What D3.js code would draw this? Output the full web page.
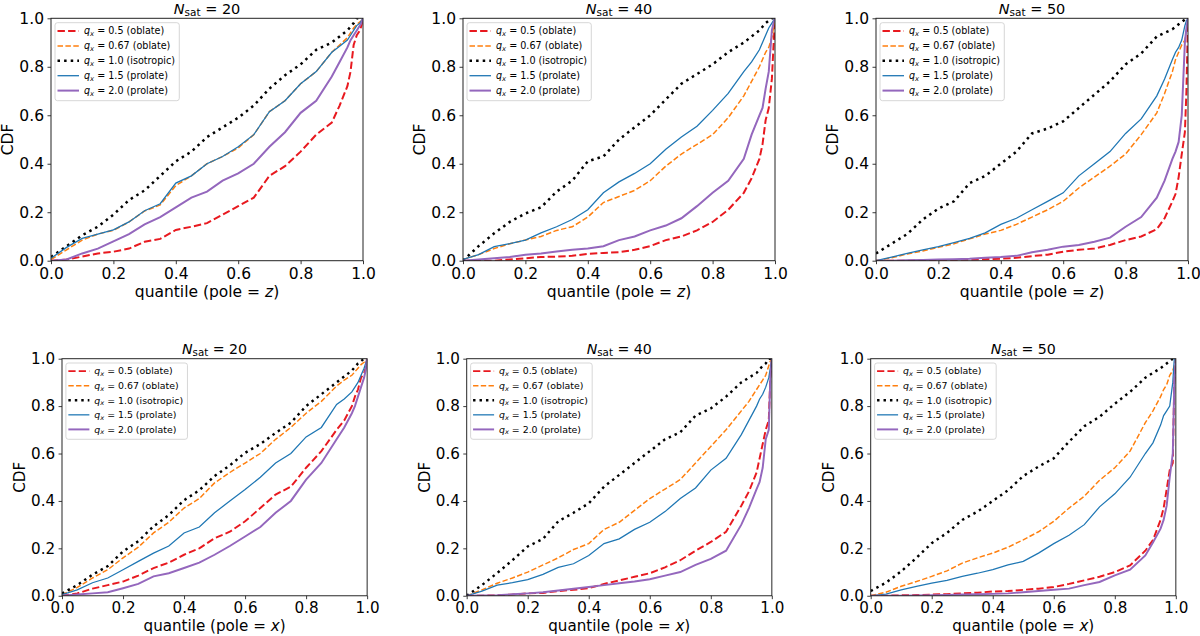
<!DOCTYPE html>
<html>
<head>
<meta charset="utf-8">
<title>CDF of quantiles</title>
<style>
body { margin: 0; background: #fff; }
svg { display: block; font-family: "DejaVu Sans", sans-serif; }
</style>
</head>
<body>
<svg id="chart" width="1200" height="636"></svg>
<script src="https://cdn.jsdelivr.net/npm/d3@7"></script>
<script>
// quantile grid shared by every curve
const qGrid = [0, .05, .1, .15, .2, .25, .3, .35, .4, .45, .5, .55, .6, .65, .7,
               .75, .8, .85, .9, .925, .95, .96, .97, .98, .99, .995, 1];

const qValues = ["0.5", "0.67", "1.0", "1.5", "2.0"];
const qShapes = ["oblate", "oblate", "isotropic", "prolate", "prolate"];
const nSatValues = [20, 40, 50];
const poles = ["z", "z", "z", "x", "x", "x"];
const tickValues = [0, 0.2, 0.4, 0.6, 0.8, 1.0];

// each panel: [q=0.5, q=0.67, q=1.0, q=1.5, q=2.0]
const z20 = [
  [0, .005, .017, .03, .037, .05, .078, .09, .127, .14, .155, .19, .225, .26, .35, .39, .45, .52, .57, .64, .72, .78, .89, .93, .95, .97, 1],
  [.005, .045, .085, .11, .125, .16, .205, .23, .31, .35, .40, .43, .465, .52, .615, .66, .73, .78, .86, .89, .92, .94, .96, .975, .985, .99, 1],
  [.015, .06, .105, .14, .19, .25, .29, .35, .41, .45, .51, .55, .59, .64, .71, .765, .81, .87, .90, .925, .95, .965, .98, 1, 1, 1, 1],
  [.01, .055, .092, .11, .127, .16, .206, .235, .32, .35, .40, .43, .47, .52, .615, .66, .73, .78, .86, .885, .91, .93, .95, .97, .98, .99, 1],
  [0, .005, .03, .05, .08, .11, .15, .18, .22, .26, .285, .33, .36, .40, .47, .53, .61, .66, .76, .82, .88, .91, .93, .95, .97, .98, 1]
];
const z40 = [
  [0, 0, 0, .005, .01, .015, .017, .02, .028, .032, .035, .045, .06, .085, .10, .125, .16, .21, .28, .34, .42, .48, .58, .63, .75, .88, 1],
  [.005, .025, .05, .07, .085, .10, .125, .14, .18, .24, .265, .29, .33, .39, .44, .48, .52, .59, .68, .74, .80, .83, .86, .88, .92, .96, 1],
  [0, .06, .113, .16, .195, .22, .285, .33, .41, .43, .50, .55, .60, .665, .73, .77, .81, .86, .90, .925, .95, .965, .98, .99, 1, 1, 1],
  [.005, .025, .058, .07, .085, .115, .14, .17, .21, .28, .325, .36, .40, .46, .51, .555, .62, .69, .78, .82, .87, .90, .93, .96, .98, .99, 1],
  [0, .005, .01, .015, .025, .03, .038, .045, .05, .06, .085, .10, .125, .145, .175, .225, .28, .33, .42, .52, .60, .63, .71, .78, .95, .98, 1]
];
const z50 = [
  [0, 0, 0, .001, .002, .003, .004, .006, .008, .012, .019, .025, .037, .045, .05, .065, .085, .10, .13, .175, .245, .275, .345, .44, .53, .70, 1],
  [0, .012, .028, .04, .055, .07, .09, .11, .125, .15, .18, .21, .245, .30, .345, .39, .44, .52, .61, .69, .78, .83, .86, .89, .91, .95, 1],
  [.03, .07, .11, .17, .215, .245, .32, .35, .40, .45, .525, .545, .575, .63, .685, .74, .81, .855, .925, .94, .955, .965, .975, .985, .995, 1, 1],
  [0, .015, .03, .045, .058, .075, .092, .115, .15, .175, .21, .245, .28, .35, .40, .45, .525, .585, .68, .75, .83, .86, .88, .91, .97, .99, 1],
  [0, 0, .002, .003, .005, .006, .008, .012, .015, .02, .035, .045, .058, .065, .078, .095, .14, .18, .26, .33, .42, .45, .49, .60, .90, .96, 1]
];
const x20 = [
  [0, .01, .03, .045, .06, .085, .117, .14, .173, .20, .243, .27, .314, .37, .427, .46, .54, .61, .70, .74, .80, .84, .87, .92, .94, .96, 1],
  [.005, .035, .075, .11, .16, .205, .265, .31, .37, .41, .476, .52, .56, .60, .66, .71, .77, .82, .885, .91, .93, .945, .96, .975, .985, .99, 1],
  [.01, .045, .089, .125, .187, .23, .293, .34, .403, .445, .505, .55, .603, .64, .687, .73, .80, .85, .90, .925, .95, .965, .98, .99, 1, 1, 1],
  [.005, .025, .055, .075, .11, .145, .18, .21, .265, .29, .35, .40, .448, .50, .56, .60, .67, .71, .807, .83, .86, .88, .90, .93, .96, .98, 1],
  [0, .005, .01, .015, .032, .05, .082, .095, .117, .14, .173, .21, .25, .29, .35, .40, .49, .56, .66, .71, .77, .80, .84, .88, .92, .95, 1]
];
const x40 = [
  [0, 0, .002, .005, .01, .012, .02, .025, .032, .05, .065, .08, .095, .12, .15, .19, .227, .27, .38, .44, .52, .58, .64, .70, .74, .92, 1],
  [0, .025, .053, .075, .10, .13, .16, .195, .22, .28, .31, .36, .41, .45, .49, .56, .63, .70, .78, .82, .87, .89, .91, .93, .97, .99, 1],
  [0, .045, .096, .15, .208, .24, .314, .35, .39, .46, .51, .56, .61, .66, .69, .76, .79, .84, .90, .92, .94, .955, .97, .98, 1, 1, 1],
  [0, .02, .045, .055, .068, .09, .12, .135, .17, .22, .24, .28, .31, .355, .41, .455, .53, .58, .68, .74, .80, .83, .85, .88, .92, .96, 1],
  [0, .001, .002, .006, .01, .015, .022, .03, .037, .045, .053, .06, .07, .085, .10, .13, .156, .19, .30, .37, .45, .48, .54, .66, .70, .92, 1]
];
const x50 = [
  [0, 0, .002, .003, .005, .007, .01, .013, .018, .02, .025, .03, .037, .05, .065, .08, .10, .128, .19, .235, .32, .37, .45, .53, .56, .90, 1],
  [0, .015, .04, .06, .082, .105, .138, .16, .18, .205, .236, .27, .314, .37, .42, .487, .54, .61, .73, .78, .84, .87, .89, .93, .95, .97, 1],
  [.02, .055, .103, .16, .222, .265, .32, .355, .40, .445, .505, .545, .58, .65, .715, .755, .81, .86, .92, .94, .96, .97, .98, .99, 1, 1, 1],
  [0, .007, .025, .04, .053, .065, .082, .095, .11, .13, .145, .18, .22, .255, .30, .375, .43, .50, .60, .645, .72, .76, .78, .80, .90, 1, 1],
  [0, 0, 0, .001, .002, .003, .005, .006, .008, .01, .015, .02, .025, .03, .045, .058, .086, .11, .17, .225, .283, .32, .38, .50, .60, .90, 1]
];
const panelData = [z20, z40, z50, x20, x40, x50];

// drawing styles, in legend order
const styles = [
  { color: "#e8191f", width: 2.0, dash: "7.4,3.2" },
  { color: "#ff7f0e", width: 1.5, dash: "5.5,2.4" },
  { color: "#000000", width: 2.5, dash: "2.5,4.1" },
  { color: "#1f77b4", width: 1.3, dash: null },
  { color: "#9467bd", width: 2.0, dash: null }
];

const W = 312, H = 242.4;
// panel origins (top-left of the axes) and scale
const layout = [
  { x: 51, y: 18.3, s: 1 }, { x: 463, y: 18.3, s: 1 }, { x: 876, y: 18.3, s: 1 },
  { x: 62, y: 358.7, s: 0.978 }, { x: 466.7, y: 358.7, s: 0.978 }, { x: 870.7, y: 358.7, s: 0.978 }
];

const svg = d3.select("#chart");
const defs = svg.append("defs");
defs.append("clipPath").attr("id", "plot-clip")
  .append("rect").attr("width", W).attr("height", H);

const x = d3.scaleLinear().domain([0, 1]).range([0, W]);
const y = d3.scaleLinear().domain([0, 1]).range([H, 0]);
const line = d3.line()
  .x((d, i) => x(qGrid[i]))
  .y(d => y(d));

layout.forEach((p, k) => {
  const g = svg.append("g")
    .attr("transform", `translate(${p.x},${p.y}) scale(${p.s})`);

  // curves
  const curves = g.append("g").attr("clip-path", "url(#plot-clip)");
  panelData[k].forEach((vals, j) => {
    curves.append("path")
      .datum(vals)
      .attr("d", line)
      .attr("fill", "none")
      .attr("stroke", styles[j].color)
      .attr("stroke-width", styles[j].width)
      .attr("stroke-dasharray", styles[j].dash)
      .attr("stroke-linejoin", "miter");
  });

  // axes
  const fmt = d3.format(".1f");
  const xAxis = g.append("g")
    .attr("transform", `translate(0,${H})`)
    .call(d3.axisBottom(x).tickValues(tickValues).tickFormat(fmt).tickSize(3.5).tickPadding(3.5));
  const yAxis = g.append("g")
    .call(d3.axisLeft(y).tickValues(tickValues).tickFormat(fmt).tickSize(3.5).tickPadding(3.5));
  [xAxis, yAxis].forEach(a => {
    a.select(".domain").remove();
    a.selectAll("line").attr("stroke", "#222").attr("stroke-width", 0.9);
    a.selectAll("text")
      .attr("fill", "#000")
      .style("font-family", "DejaVu Sans")
      .style("font-size", "15.5px");
  });

  // frame
  g.append("rect")
    .attr("width", W).attr("height", H)
    .attr("fill", "none")
    .attr("stroke", "#222")
    .attr("stroke-width", 1);

  // title
  const title = g.append("text")
    .attr("x", W / 2).attr("y", -4.8)
    .attr("text-anchor", "middle")
    .style("font-size", "14.5px");
  title.append("tspan").attr("font-style", "italic").text("N");
  title.append("tspan").attr("font-size", "10.5px").attr("dy", 2.3).text("sat");
  title.append("tspan").attr("dy", -2.3).text(" = " + nSatValues[k % 3]);

  // axis labels
  const xl = g.append("text")
    .attr("x", W / 2).attr("y", H + 36)
    .attr("text-anchor", "middle")
    .style("font-size", "15.5px");
  xl.append("tspan").text("quantile (pole = ");
  xl.append("tspan").attr("font-style", "italic").text(poles[k]);
  xl.append("tspan").text(")");

  g.append("text")
    .attr("transform", `translate(-38,${H / 2}) rotate(-90)`)
    .attr("text-anchor", "middle")
    .style("font-size", "15.5px")
    .text("CDF");

  // legend
  const lg = g.append("g").attr("transform", "translate(4,4.4)");
  lg.append("rect")
    .attr("width", 124.3).attr("height", 78)
    .attr("rx", 2.5)
    .attr("fill", "#fff").attr("fill-opacity", 0.8)
    .attr("stroke", "#cccccc").attr("stroke-width", 0.8);
  qValues.forEach((q, j) => {
    const cy = 8.3 + j * 14.9;
    lg.append("line")
      .attr("x1", 2.5).attr("x2", 24)
      .attr("y1", cy).attr("y2", cy)
      .attr("stroke", styles[j].color)
      .attr("stroke-width", styles[j].width)
      .attr("stroke-dasharray", styles[j].dash);
    const t = lg.append("text")
      .attr("x", 29).attr("y", cy + 3.4)
      .style("font-size", "9.6px");
    t.append("tspan").attr("font-style", "italic").text("q");
    t.append("tspan").attr("font-style", "italic").attr("font-size", "6.8px").attr("dy", 1.6).text("x");
    t.append("tspan").attr("dy", -1.6).text(" = " + q + " (" + qShapes[j] + ")");
  });
});
</script>
</body>
</html>
